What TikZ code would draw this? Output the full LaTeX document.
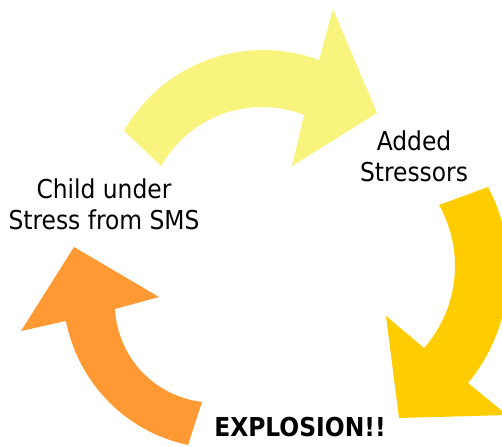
\documentclass[tikz,border=0pt]{standalone}
\usepackage{fontspec}
\setmainfont{DejaVu Sans Condensed}
\definecolor{yel}{HTML}{F8F47E}
\definecolor{gld}{HTML}{FFCC00}
\definecolor{org}{HTML}{FF9933}
\begin{document}
\begin{tikzpicture}[x=0.75pt,y=-0.75pt,
  lbl/.style={align=center,inner sep=0pt,font=\fontsize{19.5}{23.3}\selectfont}]
\useasboundingbox (0,0) rectangle (502,446);
\clip (0,0) rectangle (502,446);
% yellow arrow (top)
\fill[yel] (124,131)
  -- plot[domain=-150.4:-69.5,samples=40] ({263+160*cos(\x)},{210+160*sin(\x)})
  -- (333,9) -- (377,113) -- (292,166) -- (304,115)
  -- plot[domain=-68.7:-150.7,samples=40] ({262+115.5*cos(\x)},{222.5+115.5*sin(\x)})
  -- cycle;
% gold arrow (right)
\fill[gld] (439,205) -- (488,187)
  -- plot[domain=-27.9:39.5,samples=40] ({331+177.6*cos(\x)},{270+177.6*sin(\x)})
  -- (507,415) -- (399,418) -- (386,316) -- (424,348)
  -- plot[domain=41.3:-29.4,samples=40] ({330.8+124.2*cos(\x)},{266+124.2*sin(\x)})
  -- cycle;
% orange arrow (left)
\fill[org] (188,445)
  -- plot[domain=101.9:169,samples=40] ({220.6+157.5*cos(\x)},{290.9+157.5*sin(\x)})
  -- (21,331) -- (74,247) -- (159,297) -- (115,309)
  -- plot[domain=177.1:96.7,samples=40] ({213.5+98.6*cos(\x)},{304+98.6*sin(\x)})
  -- cycle;
\node[lbl] (added) at (414,156) {Added\\Stressors};
\node[lbl] (child) at (104,204) {Child under\\Stress from SMS};
\node[lbl,font=\fontsize{19.5}{23.3}\selectfont\bfseries] (boom) at (300,427) {EXPLOSION!!};
\end{tikzpicture}
\end{document}
